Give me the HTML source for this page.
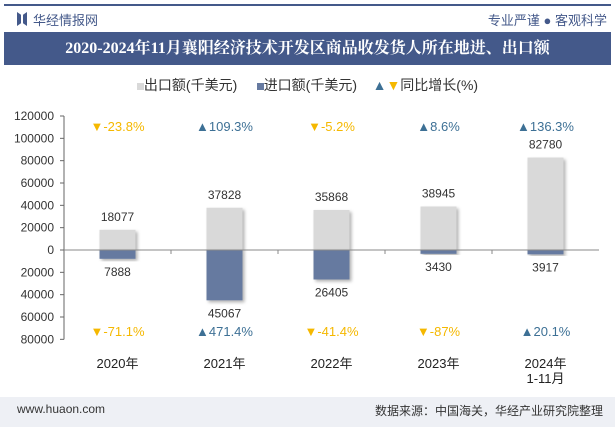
<!DOCTYPE html>
<html><head><meta charset="utf-8"><style>
body{margin:0;width:615px;height:427px;background:#fff;font-family:"Liberation Sans","Noto Sans CJK SC",sans-serif;overflow:hidden;position:relative}
.t{position:absolute}
</style></head><body>
<div class="t" style="left:4px;top:4px;width:607px;height:2px;background:#44598a"></div>
<div class="t" style="left:17px;top:12px;width:10px;height:14px;background:#44598a;clip-path:polygon(0 0,40% 20%,40% 80%,0 100%,0 0,100% 0,60% 20%,60% 80%,100% 100%,100% 0)"></div>
<div class="t" style="left:33px;top:10px;font-size:13px;color:#44598a">华经情报网</div>
<div class="t" style="right:8px;top:10px;font-size:13px;color:#44598a">专业严谨 ● 客观科学</div>
<div class="t" style="left:4px;top:32px;width:607px;height:33px;background:#44598a;color:#fff;font-size:16px;font-weight:bold;text-align:center;line-height:33px;font-family:'Liberation Serif','Noto Serif CJK SC',serif">2020-2024年11月襄阳经济技术开发区商品收发货人所在地进、出口额</div>
<div class="t" style="left:0;width:615px;top:75px;text-align:center;font-size:14px;color:#333">
<span><span style="display:inline-block;width:7px;height:7px;background:#d9d9d9"></span>出口额(千美元)</span>&nbsp;&nbsp;&nbsp;&nbsp;
<span><span style="display:inline-block;width:7px;height:7px;background:#667aa0"></span>进口额(千美元)</span>&nbsp;&nbsp;&nbsp;
<span><span style="color:#3d7095">▲</span><span style="color:#f5b800">▼</span>同比增长(%)</span></div>
<svg class="t" style="left:0;top:0" width="615" height="427" id="svg">
<defs><filter id="sh" x="-20%" y="-20%" width="150%" height="150%"><feDropShadow dx="2" dy="2" stdDeviation="1.5" flood-color="#000" flood-opacity="0.3"/></filter></defs>
</svg>
<div class="t" style="left:0;top:397px;width:615px;height:30px;background:#eef0f5"></div>
<div class="t" style="left:17px;top:402px;font-size:12px;color:#333">www.huaon.com</div>
<div class="t" style="right:12px;top:402px;font-size:12px;color:#333">数据来源：中国海关，华经产业研究院整理</div>
<script>
const categories=["2020年","2021年","2022年","2023年","2024年\n1-11月"];
const exportVals=[18077,37828,35868,38945,82780];
const importVals=[7888,45067,26405,3430,3917];
const exportGrowth=[-23.8,109.3,-5.2,8.6,136.3];
const importGrowth=[-71.1,471.4,-41.4,-87,20.1];
const yTicks=[120000,100000,80000,60000,40000,20000,0,-20000,-40000,-60000,-80000];
const svg=document.getElementById('svg');const NS='http://www.w3.org/2000/svg';
const x0=64,x1=599,bw=(x1-x0)/categories.length;
const y=v=>250-v*(134/120000);
const xc=i=>x0+bw*(i+0.5);
function mk(t,a,txt){const e=document.createElementNS(NS,t);for(const k in a)e.setAttribute(k,a[k]);if(txt!==undefined)e.textContent=txt;svg.appendChild(e);return e;}
let ax=mk('line',{x1:x0,x2:x0,y1:y(120000),y2:y(-80000),stroke:'#666'});

yTicks.forEach(v=>{let l=mk('line',{x1:x0-4,x2:x0,y1:y(v),y2:y(v),stroke:'#666'});

let t=mk('text',{x:x0-10,y:y(v)+4,'text-anchor':'end','font-size':12,fill:'#333'},Math.abs(v));
});
categories.forEach((c,i)=>{const cx=xc(i),w=36;
let b=mk('rect',{x:cx-w/2,y:y(exportVals[i]),width:w,height:y(0)-y(exportVals[i]),fill:'#d9d9d9',filter:'url(#sh)'});

let b2=mk('rect',{x:cx-w/2,y:y(0),width:w,height:y(-importVals[i])-y(0),fill:'#667aa0',filter:'url(#sh)'});

let t1=mk('text',{x:cx,y:y(exportVals[i])-9,'text-anchor':'middle','font-size':12,fill:'#333'},exportVals[i]);

let t2=mk('text',{x:cx,y:y(-importVals[i])+17,'text-anchor':'middle','font-size':12,fill:'#333'},importVals[i]);

[[exportGrowth[i],131],[importGrowth[i],336]].forEach(([g,yy])=>{const up=g>=0;
let t=mk('text',{x:cx,y:yy,'text-anchor':'middle','font-size':13,fill:up?'#3d7095':'#f5b800'},(up?'▲':'▼')+g+'%');
});
c.split('\n').forEach((s,k)=>{let t=mk('text',{x:cx,y:368+k*15,'text-anchor':'middle','font-size':13,fill:'#222'},s);
});
if(i>0){let l=mk('line',{x1:x0+bw*i,x2:x0+bw*i,y1:y(0),y2:y(0)+4,stroke:'#888'});}
});
let z=mk('line',{x1:x0,x2:x1,y1:y(0),y2:y(0),stroke:'#888'});

</script>
</body></html>
